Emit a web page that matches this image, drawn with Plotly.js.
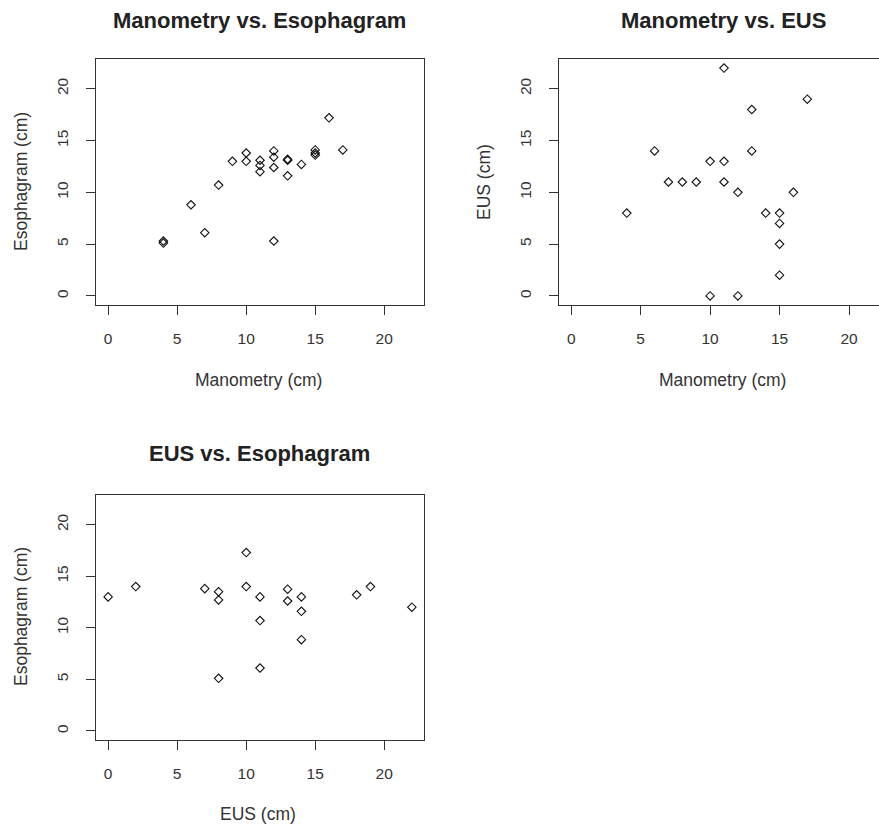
<!DOCTYPE html>
<html>
<head>
<meta charset="utf-8">
<script src="https://cdn.plot.ly/plotly-3.0.1.min.js"></script>
<style>
html, body { margin: 0; padding: 0; overflow: hidden; background: #fff; }
#chart { width: 890px; height: 831px; }
</style>
</head>
<body>
<div id="chart"></div>
<script>
// Panel 1: Manometry vs. Esophagram
var manoA = [4, 4, 6, 7, 8, 9, 10, 10, 11, 11, 11, 12, 12, 12, 12, 13, 13, 13, 14, 15, 15, 15, 16, 17];
var esoA  = [5.1, 5.3, 8.8, 6.1, 10.7, 13.0, 13.8, 13.0, 13.1, 12.6, 12.0, 14.0, 13.4, 12.4, 5.3, 13.1, 13.2, 11.6, 12.7, 14.1, 13.8, 13.6, 17.2, 14.1];

// Panel 2: Manometry vs. EUS
var manoB = [11, 17, 13, 6, 13, 10, 11, 7, 8, 9, 11, 12, 16, 4, 14, 15, 15, 15, 15, 10, 12];
var eusB  = [22, 19, 18, 14, 14, 13, 13, 11, 11, 11, 11, 10, 10, 8, 8, 8, 7, 5, 2, 0, 0];

// Panel 3: EUS vs. Esophagram
var eusC = [0, 2, 7, 8, 8, 8, 10, 10, 11, 11, 11, 13, 13, 14, 14, 14, 18, 19, 22];
var esoC = [13.0, 14.0, 13.8, 13.5, 12.7, 5.1, 17.3, 14.0, 13.0, 10.7, 6.1, 13.75, 12.6, 13.0, 11.6, 8.85, 13.2, 14.0, 12.0];

var tickVals = [0, 5, 10, 15, 20];
var tickText = ['0', '5', '10', '15', '20'];

var W = 890, H = 831;
function px(x) { return x / W; }
function py(y) { return 1 - y / H; }

var marker = { symbol: 'diamond-open', size: 6.5, color: '#111', line: { width: 1.1, color: '#111' } };

var traces = [
  { x: manoA, y: esoA, type: 'scatter', mode: 'markers', marker: marker, xaxis: 'x', yaxis: 'y', showlegend: false, hoverinfo: 'x+y' },
  { x: manoB, y: eusB, type: 'scatter', mode: 'markers', marker: marker, xaxis: 'x2', yaxis: 'y2', showlegend: false, hoverinfo: 'x+y' },
  { x: eusC, y: esoC, type: 'scatter', mode: 'markers', marker: marker, xaxis: 'x3', yaxis: 'y3', showlegend: false, hoverinfo: 'x+y' }
];

var tickFont = { family: 'Liberation Sans, Arial, sans-serif', size: 15.5, color: '#333' };
function xAx(d0, d1, anchor) {
  return {
    domain: [px(d0), px(d1)], anchor: anchor, range: [-0.88, 22.88],
    tickmode: 'array', tickvals: tickVals, ticktext: tickText,
    ticks: 'outside', ticklen: 9, tickwidth: 1, tickcolor: '#333',
    showline: true, mirror: true, linecolor: '#333', linewidth: 1,
    showgrid: false, zeroline: false, tickfont: tickFont, ticklabelstandoff: 10,
    fixedrange: true
  };
}
function yAx(d0, d1, anchor) {
  return {
    domain: [py(d1), py(d0)], anchor: anchor, range: [-0.88, 22.88],
    tickmode: 'array', tickvals: tickVals, ticktext: tickText,
    ticks: 'outside', ticklen: 9, tickwidth: 1, tickcolor: '#333',
    showline: true, mirror: true, linecolor: '#333', linewidth: 1,
    showgrid: false, zeroline: false, tickfont: tickFont, tickangle: -90, ticklabelstandoff: 12,
    fixedrange: true
  };
}

var titleFont = { family: 'Liberation Sans, Arial, sans-serif', size: 22, color: '#222' };
var labFont = { family: 'Liberation Sans, Arial, sans-serif', size: 17.5, color: '#333' };
function ann(text, x, y, font, angle) {
  return { text: text, xref: 'paper', yref: 'paper', x: px(x), y: py(y), xanchor: 'center', yanchor: 'middle', showarrow: false, font: font, textangle: angle || 0 };
}

var layout = {
  width: W, height: H,
  margin: { l: 0, r: 0, t: 0, b: 0 },
  paper_bgcolor: '#fff', plot_bgcolor: '#fff',
  showlegend: false,
  xaxis: xAx(96, 424, 'y'),
  yaxis: yAx(59, 305, 'x'),
  xaxis2: xAx(559, 889, 'y2'),
  yaxis2: yAx(59, 305, 'x2'),
  xaxis3: xAx(96, 424, 'y3'),
  yaxis3: yAx(495, 740, 'x3'),
  annotations: [
    ann('<b>Manometry vs. Esophagram</b>', 259, 20, titleFont),
    ann('<b>Manometry vs. EUS</b>', 723, 20, titleFont),
    ann('<b>EUS vs. Esophagram</b>', 259, 454, titleFont),
    ann('Manometry (cm)', 258, 380, labFont),
    ann('Manometry (cm)', 722, 380, labFont),
    ann('EUS (cm)', 258, 814, labFont),
    ann('Esophagram (cm)', 21, 182, labFont, -90),
    ann('EUS (cm)', 484, 182, labFont, -90),
    ann('Esophagram (cm)', 21, 617, labFont, -90)
  ]
};

Plotly.newPlot('chart', traces, layout, { displayModeBar: false, staticPlot: true });
</script>
</body>
</html>
